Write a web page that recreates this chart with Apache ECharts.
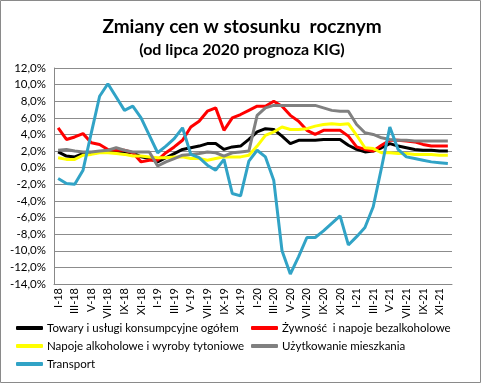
<!DOCTYPE html>
<html><head><meta charset="utf-8">
<script src="https://cdn.jsdelivr.net/npm/echarts@6/dist/echarts.min.js"></script>
<style>html,body{margin:0;padding:0;background:#fff}#c{width:484px;height:385px}</style>
</head><body><div id="c"></div>
<script>
const categories = ['I-18','II-18','III-18','IV-18','V-18','VI-18','VII-18','VIII-18','IX-18','X-18','XI-18','XII-18',
 'I-19','II-19','III-19','IV-19','V-19','VI-19','VII-19','VIII-19','IX-19','X-19','XI-19','XII-19',
 'I-20','II-20','III-20','IV-20','V-20','VI-20','VII-20','VIII-20','IX-20','X-20','XI-20','XII-20',
 'I-21','II-21','III-21','IV-21','V-21','VI-21','VII-21','VIII-21','IX-21','X-21','XI-21','XII-21'];
const towary = [1.9,1.4,1.3,1.7,1.7,1.9,2.0,2.0,1.9,1.8,1.3,1.1, 0.7,1.2,1.7,2.2,2.4,2.6,2.9,2.9,2.2,2.5,2.6,3.4,
 4.3,4.7,4.6,3.8,2.9,3.3,3.3,3.3,3.4,3.4,3.4,2.7, 2.2,1.9,2.0,2.4,2.9,2.6,2.4,2.2,2.1,2.1,2.0,2.0];
const zywnosc = [4.8,3.4,3.7,4.1,3.0,2.8,2.2,2.1,2.1,1.8,0.7,0.9, 0.9,1.8,2.5,3.3,4.9,5.6,6.8,7.2,4.5,6.0,6.4,6.9,
 7.4,7.4,8.0,7.4,6.3,5.6,4.5,4.0,4.5,4.5,4.5,3.8, 2.5,2.2,2.0,2.7,3.3,3.3,3.2,3.1,2.8,2.6,2.6,2.6];
const alkohol = [1.2,1.0,1.0,1.5,1.6,1.8,1.8,1.7,1.6,1.4,1.4,1.3, 1.2,1.2,1.3,1.3,1.1,1.1,0.9,1.1,1.3,1.3,1.3,1.5,
 2.6,3.9,4.3,4.9,4.6,4.6,4.7,5.0,5.2,5.3,5.2,5.3, 3.9,2.4,2.3,1.8,1.8,1.7,1.7,1.6,1.6,1.6,1.5,1.5];
const mieszkanie = [2.1,2.2,2.0,1.9,1.9,2.0,2.1,2.4,2.1,1.9,1.9,1.9, 0.2,0.7,1.1,1.5,1.6,1.7,1.9,1.8,1.4,1.8,1.9,2.0,
 6.3,7.2,7.5,7.5,7.5,7.5,7.5,7.5,7.2,6.9,6.8,6.8, 5.2,4.2,4.0,3.6,3.4,3.3,3.3,3.2,3.2,3.2,3.2,3.2];
const transport = [-1.3,-1.9,-2.0,-0.3,4.2,8.6,10.1,8.5,6.9,7.4,6.0,3.9, 1.8,2.6,3.5,4.8,1.6,1.2,0.3,-0.3,1.0,-3.1,-3.4,0.8,
 2.1,1.3,-1.5,-10.0,-12.8,-10.7,-8.4,-8.4,-7.6,-6.7,-5.8,-9.3, -8.3,-7.2,-4.7,0.0,4.9,2.2,1.3,1.1,0.9,0.7,0.6,0.5];
const names = ['Towary i usługi konsumpcyjne ogółem','Żywność  i napoje bezalkoholowe','Napoje alkoholowe i wyroby tytoniowe','Użytkowanie mieszkania','Transport'];
const colors = ['#000000','#ff0000','#ffff00','#808080','#31a3c6'];
const seriesData = [towary, zywnosc, alkohol, mieszkanie, transport];
const FONT = 'Lato';
const legendPos = [[16,322],[251,322],[16,340],[251,340],[16,358]];

const chart = echarts.init(document.getElementById('c'), null, {renderer:'canvas'});
chart.setOption({
  animation:false,
  backgroundColor:'#fff',
  textStyle:{fontFamily:FONT},
  title:[
    {text:'Zmiany cen w stosunku  rocznym', left:'center', top:12, textStyle:{fontSize:19,fontWeight:'bold',color:'#000',fontFamily:FONT}},
    {text:'(od lipca 2020 prognoza KIG)', left:'center', top:37, textStyle:{fontSize:16,fontWeight:'bold',color:'#000',fontFamily:FONT}}
  ],
  legend: names.map((n,i)=>({
    data:[n], left:legendPos[i][0], top:legendPos[i][1], icon:'roundRect', itemWidth:27, itemHeight:4, itemGap:0,
    padding:0, textStyle:{fontSize:11.5,color:'#000',fontFamily:FONT,padding:[0,0,0,-1]}, selectedMode:false
  })),
  grid:{left:54,right:32,top:68,bottom:101},
  xAxis:{type:'category', data:categories, boundaryGap:true,
    axisLine:{onZero:false,lineStyle:{color:'#888'}}, axisTick:{show:false},
    axisLabel:{interval:1, rotate:90, fontSize:11, color:'#000', margin:4, fontFamily:FONT}},
  yAxis:{type:'value', min:-14, max:12, interval:2,
    axisLine:{show:true,lineStyle:{color:'#888'}}, axisTick:{show:false},
    splitLine:{lineStyle:{color:'#8c8c8c',width:1}},
    axisLabel:{fontSize:11.5,color:'#000',margin:8,fontFamily:FONT,formatter:v=>v.toFixed(1).replace('.',',')+'%'}},
  series: names.map((n,i)=>({name:n,type:'line',data:seriesData[i],showSymbol:false,symbol:'none',
    lineStyle:{color:colors[i],width:3},itemStyle:{color:colors[i]},z:2+i})),
  graphic:[{type:'rect',shape:{x:0.5,y:0.5,width:480,height:382},style:{fill:null,stroke:'#8a8a8a',lineWidth:1},silent:true}]
});
</script></body></html>
